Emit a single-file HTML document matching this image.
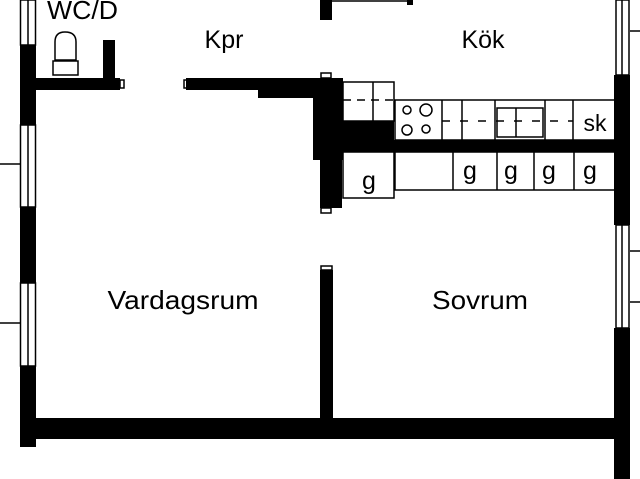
<!DOCTYPE html>
<html><head><style>body{margin:0;background:#fff}svg{display:block}text{font-family:"Liberation Sans",sans-serif;fill:#000}</style></head><body>
<svg width="640" height="479" viewBox="0 0 640 479" xmlns="http://www.w3.org/2000/svg">
<g fill="#000">
<rect x="20" y="45" width="16" height="80"/>
<rect x="20" y="207" width="16" height="76"/>
<rect x="20" y="366" width="16" height="81"/>
<rect x="20" y="418" width="610" height="21"/>
<rect x="614" y="75" width="16" height="150"/>
<rect x="614" y="328" width="16" height="151"/>
<rect x="320" y="270" width="13" height="148"/>
<rect x="36" y="78" width="84" height="12"/>
<rect x="103" y="40" width="12" height="38"/>
<rect x="186" y="78" width="134" height="12"/>
<rect x="258" y="88" width="62" height="10"/>
<rect x="313" y="78" width="30" height="82"/>
<rect x="320" y="158" width="22" height="50"/>
<rect x="320" y="0" width="12" height="20"/>
<rect x="407" y="0" width="6" height="5"/>
<rect x="342" y="121" width="52" height="19"/>
<rect x="342" y="140" width="274" height="12"/>
</g>
<g fill="none" stroke="#000" stroke-width="1.5">
<rect x="20.5" y="0" width="15" height="45"/><line x1="28" y1="0" x2="28" y2="45"/>
<rect x="20.5" y="125" width="15" height="82"/><line x1="28" y1="125" x2="28" y2="207"/><line x1="0" y1="164" x2="20" y2="164"/>
<rect x="20.5" y="283" width="15" height="83"/><line x1="28" y1="283" x2="28" y2="366"/><line x1="0" y1="323" x2="20" y2="323"/>
<rect x="616" y="0" width="13" height="75"/><line x1="622" y1="0" x2="622" y2="75"/><line x1="630" y1="31" x2="640" y2="31"/>
<rect x="616" y="225" width="13" height="103"/><line x1="622" y1="225" x2="622" y2="328"/><line x1="630" y1="251" x2="640" y2="251"/><line x1="630" y1="302" x2="640" y2="302"/>
<line x1="332" y1="1" x2="410" y2="1"/>
<rect x="120" y="80" width="4" height="8"/><rect x="184" y="80" width="4" height="8"/>
<rect x="321" y="73" width="10" height="5"/><rect x="321" y="208" width="10" height="5"/><rect x="321" y="266" width="11" height="4"/>
<path d="M55 60 V42 Q55 32 65 32 Q76 32 76 42 V60 Z"/>
<rect x="53" y="61" width="25" height="14"/>
<rect x="343" y="82" width="51" height="39"/><line x1="373" y1="82" x2="373" y2="121"/>
<line x1="343" y1="100" x2="394" y2="100" stroke-dasharray="8,6"/>
<rect x="395" y="100" width="221" height="40"/>
<line x1="442" y1="100" x2="442" y2="140"/><line x1="462" y1="100" x2="462" y2="140"/><line x1="495" y1="100" x2="495" y2="140"/><line x1="545" y1="100" x2="545" y2="140"/><line x1="573" y1="100" x2="573" y2="140"/>
<line x1="442" y1="121" x2="573" y2="121" stroke-dasharray="8,10"/>
<rect x="497" y="108" width="46" height="29"/><line x1="516" y1="108" x2="516" y2="137"/>
<circle cx="407" cy="110" r="4"/><circle cx="426" cy="110" r="6"/><circle cx="407" cy="130" r="5"/><circle cx="426" cy="129" r="4"/>
<rect x="395" y="152" width="221" height="38"/>
<line x1="453" y1="152" x2="453" y2="190"/><line x1="497" y1="152" x2="497" y2="190"/><line x1="534" y1="152" x2="534" y2="190"/><line x1="574" y1="152" x2="574" y2="190"/>
<rect x="343" y="152" width="51" height="46"/>
</g>
<text x="47" y="19" font-size="26" textLength="71" lengthAdjust="spacingAndGlyphs">WC/D</text>
<text x="224" y="48" font-size="25" text-anchor="middle">Kpr</text>
<text x="483" y="48" font-size="25" text-anchor="middle">Kök</text>
<text x="595" y="131" font-size="23" text-anchor="middle">sk</text>
<text x="369" y="189" font-size="25" text-anchor="middle">g</text>
<text x="470" y="179" font-size="25" text-anchor="middle">g</text>
<text x="511" y="179" font-size="25" text-anchor="middle">g</text>
<text x="549" y="179" font-size="25" text-anchor="middle">g</text>
<text x="590" y="179" font-size="25" text-anchor="middle">g</text>
<text x="183" y="309" font-size="26" text-anchor="middle" textLength="151" lengthAdjust="spacingAndGlyphs">Vardagsrum</text>
<text x="480" y="309" font-size="26" text-anchor="middle" textLength="96" lengthAdjust="spacingAndGlyphs">Sovrum</text>
</svg>
</body></html>
